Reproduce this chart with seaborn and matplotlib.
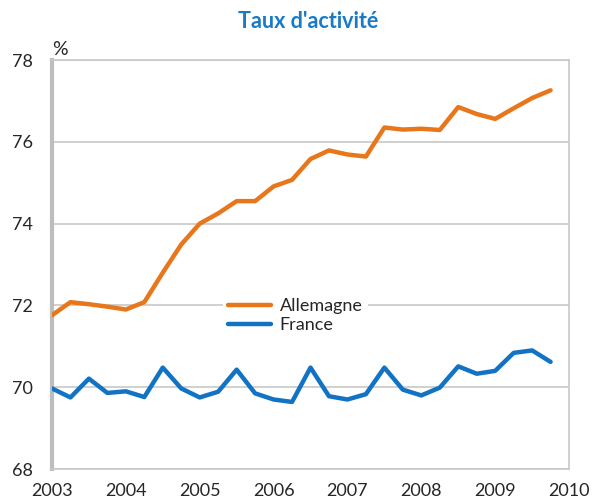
import numpy as np
import pandas as pd
import seaborn as sns
import matplotlib.pyplot as plt

# quarterly data, 2003Q1 - 2009Q4
quarters = [2003 + i / 4 for i in range(28)]
allemagne = [71.76, 72.08, 72.03, 71.97, 71.90, 72.08, 72.80, 73.49,
             74.00, 74.25, 74.55, 74.55, 74.91, 75.07, 75.58, 75.79,
             75.69, 75.64, 76.35, 76.30, 76.32, 76.29, 76.85, 76.68,
             76.56, 76.82, 77.07, 77.26]
france = [69.97, 69.75, 70.21, 69.86, 69.90, 69.76, 70.48, 69.97,
          69.75, 69.89, 70.43, 69.85, 69.70, 69.64, 70.48, 69.78,
          69.70, 69.83, 70.48, 69.94, 69.80, 69.99, 70.51, 70.33,
          70.40, 70.84, 70.90, 70.62]
countries = ["Allemagne", "France"]
year_ticks = list(range(2003, 2011))
y_ticks = [68, 70, 72, 74, 76, 78]

d = pd.DataFrame({
    "date": quarters * 2,
    "taux": allemagne + france,
    "pays": ["Allemagne"] * len(quarters) + ["France"] * len(quarters),
})

sns.set_style("white")
plt.rcParams['font.family'] = ['Lato', 'DejaVu Sans']

fig = plt.figure(figsize=(5.94, 5.04), dpi=100)
ax = fig.add_axes([0.0875, 0.0694, 0.8705, 0.8115])

pal = {"Allemagne": "#E8771C", "France": "#1273C4"}
sns.lineplot(data=d, x="date", y="taux", hue="pays", palette=pal,
             linewidth=3.2, ax=ax, legend=False, zorder=3)

ax.set_xlim(2003, 2010)
ax.set_ylim(68, 78)
ax.set_xticks(year_ticks)
ax.set_xticks([2005, 2007, 2009], minor=True)
ax.set_yticks(y_ticks)
ax.grid(axis='y', color='#c8c8c8', linewidth=1.2)
ax.grid(axis='x', which='minor', color='#c8c8c8', linewidth=1.2)
ax.tick_params(axis='x', which='major', direction='in', length=6, width=1,
               color='#333333', labelsize=13, pad=10)
ax.tick_params(axis='x', which='minor', length=0)
ax.tick_params(axis='y', length=6, width=1.2, color='#c8c8c8', labelsize=13, pad=8)
ax.set_xlabel("")
ax.set_ylabel("")
for s in ['top', 'right', 'bottom']:
    ax.spines[s].set_color('#c8c8c8')
    ax.spines[s].set_linewidth(1.2)
ax.spines['left'].set_color('#bdbdbd')
ax.spines['left'].set_linewidth(3)

handles = [plt.Line2D([], [], color=pal[c], linewidth=3.2) for c in countries]
leg = ax.legend(handles, countries, loc='center left', bbox_to_anchor=(0.33, 0.375),
                frameon=True, fontsize=13, handlelength=2.4, handletextpad=0.45,
                labelspacing=0.2, borderpad=0.3, borderaxespad=0)
leg.get_frame().set_facecolor('white')
leg.get_frame().set_edgecolor('none')
leg.get_frame().set_alpha(1)
leg.set_zorder(2)

ax.text(0.0, 1.006, "%", transform=ax.transAxes, fontsize=14, ha='left', va='bottom')
fig.text(0.518, 0.958, "Taux d'activité", color='#1a7ac6', fontsize=15.5,
         fontweight='bold', ha='center', va='center')

plt.savefig('out.png', dpi=100)
